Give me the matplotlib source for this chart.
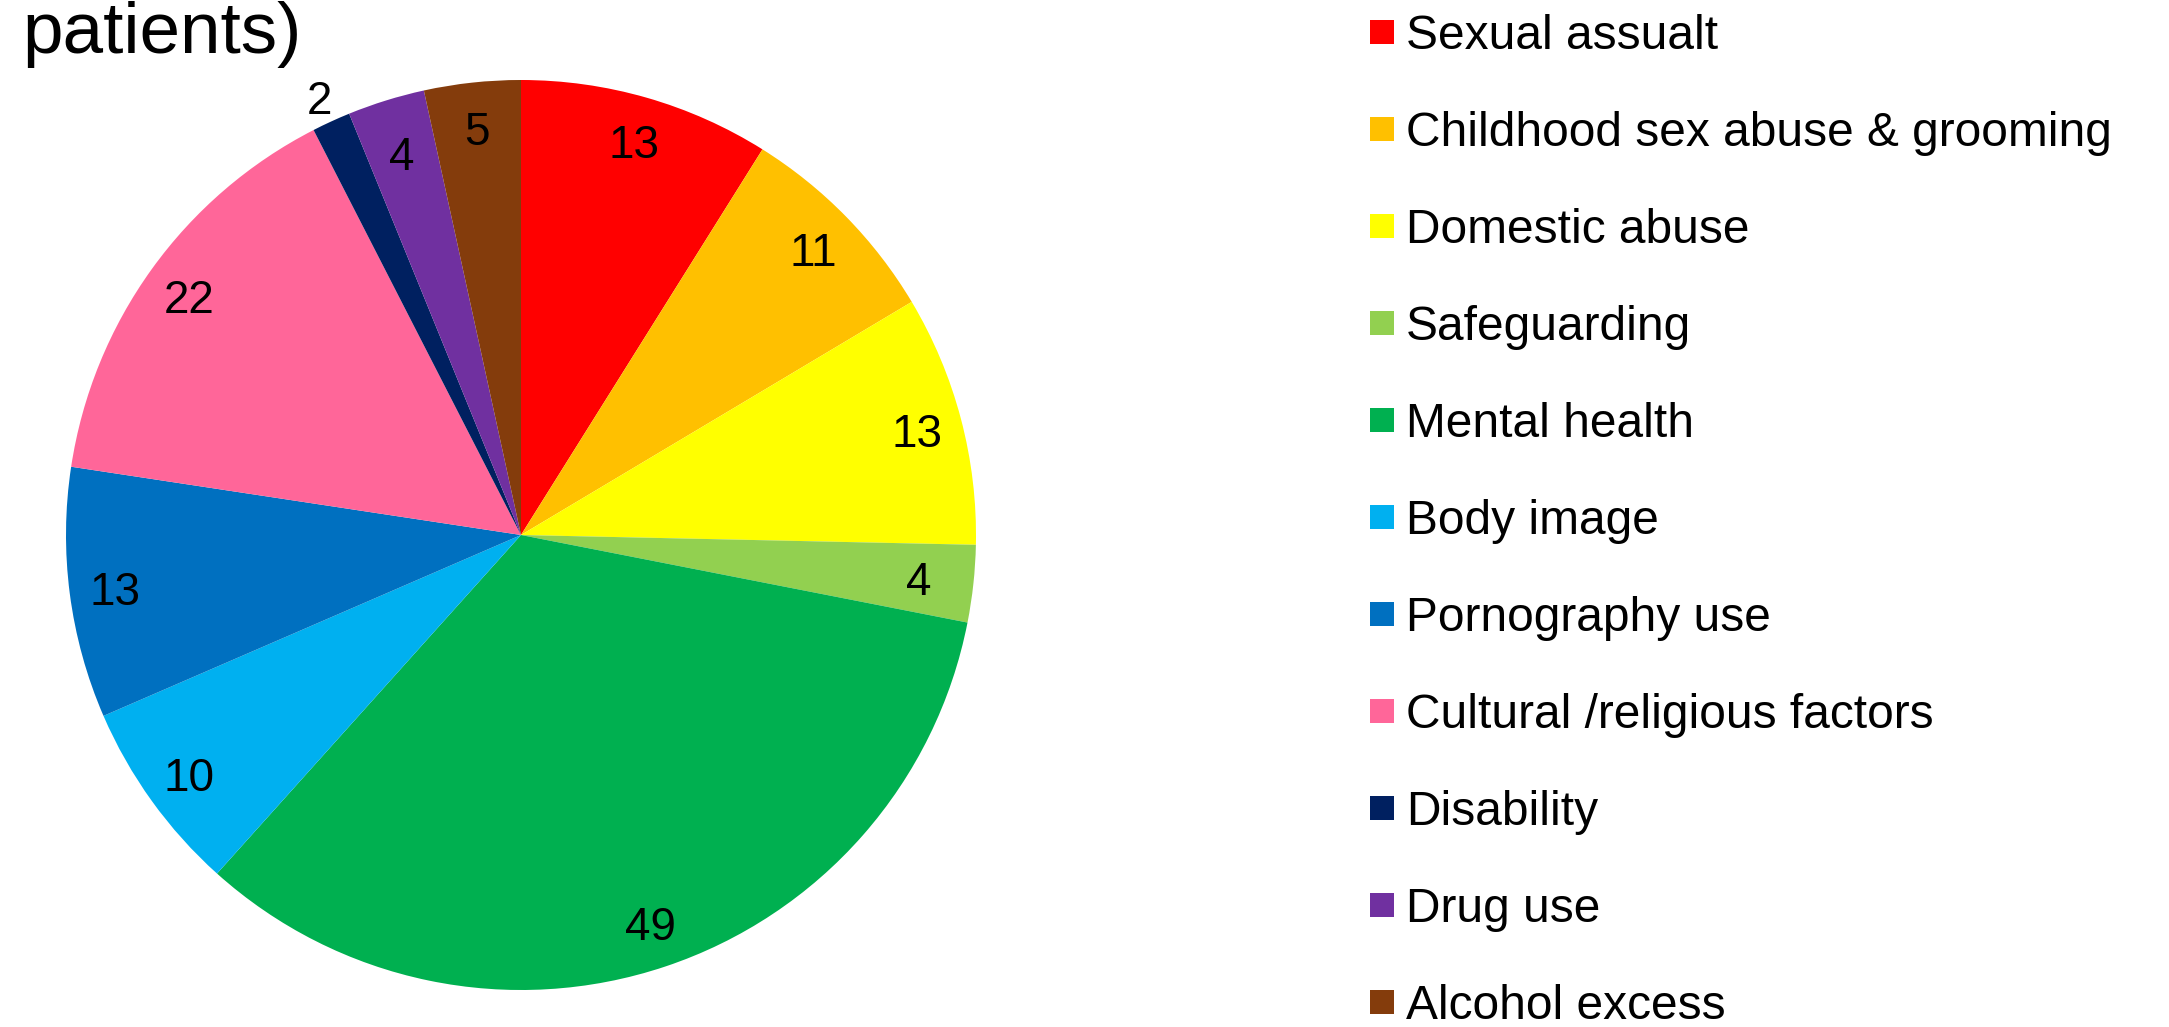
import matplotlib
matplotlib.use("Agg")
import matplotlib.pyplot as plt
from matplotlib.patches import Rectangle
import numpy as np

plt.rcParams['font.family'] = ['Liberation Sans', 'DejaVu Sans']

categories = ["Sexual assualt", "Childhood sex abuse & grooming", "Domestic abuse",
              "Safeguarding", "Mental health", "Body image", "Pornography use",
              "Cultural /religious factors", "Disability", "Drug use", "Alcohol excess"]
values = [13, 11, 13, 4, 49, 10, 13, 22, 2, 4, 5]
colors = ["#FF0000", "#FFC000", "#FFFF00", "#92D050", "#00B050", "#00B0F0",
          "#0070C0", "#FF6699", "#002060", "#7030A0", "#843C0C"]
title_text = "patients)"

W, H = 2169, 1027
fig = plt.figure(figsize=(W / 100, H / 100), dpi=100)

# pie axes: centre (521, 535) px from top-left, radius 455 px
cx, cy, r = 521, 535, 455
ax = fig.add_axes([(cx - r) / W, (H - cy - r) / H, 2 * r / W, 2 * r / H])
wedges, texts = ax.pie(values, colors=colors, startangle=90, counterclock=False,
                       labels=[str(v) for v in values], labeldistance=0.9,
                       textprops=dict(fontsize=33, color="black"),
                       wedgeprops=dict(linewidth=0))
for t, v in zip(texts, values):
    t.set_ha("center")
    t.set_va("center_baseline")
    if v <= 2:
        x, y = t.get_position()
        t.set_position((x * 1.06 / 0.9, y * 1.06 / 0.9))
    elif v <= 4:
        x, y = t.get_position()
        t.set_position((x * 0.88 / 0.9, y * 0.88 / 0.9))
ax.set_xlim(-1, 1)
ax.set_ylim(-1, 1)
ax.set_aspect("auto")
ax.axis("off")

# title fragment
fig.text(22 / W, 1 - 53 / H, title_text, fontsize=52.5, ha="left", va="baseline")

# legend
y0, pitch = 32, 97
msz = 24
for i, (lab, col) in enumerate(zip(categories, colors)):
    yc = y0 + i * pitch
    fig.patches.append(Rectangle((1370 / W, 1 - (yc + msz / 2) / H), msz / W, msz / H,
                                 transform=fig.transFigure, facecolor=col,
                                 edgecolor="none"))
    fig.text(1406 / W, 1 - (yc + 17) / H, lab, fontsize=34.5, ha="left",
             va="baseline")

fig.savefig("out.png", dpi=100)
